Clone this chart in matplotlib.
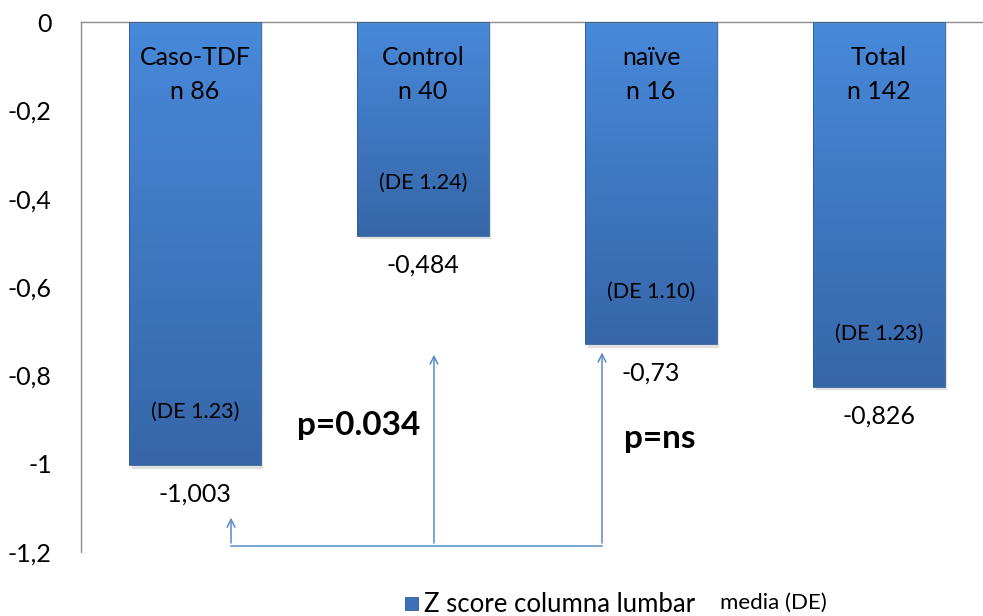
import matplotlib
matplotlib.use("Agg")
import matplotlib.pyplot as plt
import numpy as np
from matplotlib.colors import LinearSegmentedColormap

plt.rcParams["font.family"] = ["Lato", "DejaVu Sans"]

# data
groups = ["Caso-TDF", "Control", "naïve", "Total"]
n_labels = ["n 86", "n 40", "n 16", "n 142"]
means = [-1.003, -0.484, -0.73, -0.826]
mean_labels = ["-1,003", "-0,484", "-0,73", "-0,826"]
sd_labels = ["(DE 1.23)", "(DE 1.24)", "(DE 1.10)", "(DE 1.23)"]
yticks = [0, -0.2, -0.4, -0.6, -0.8, -1.0, -1.2]
ytick_labels = ["0", "-0,2", "-0,4", "-0,6", "-0,8", "-1", "-1,2"]

fig = plt.figure(figsize=(9.83, 6.16), dpi=100)
ax = fig.add_axes([81 / 983, 1 - 552 / 616, (983 - 81) / 983, 530 / 616])

x = np.arange(len(groups))
width = 0.575
bars = ax.bar(x, means, width=width, color="none", edgecolor="#2f5d94", linewidth=0.6, zorder=3)

# vertical gradient inside each bar, plus a soft shadow
cmap = LinearSegmentedColormap.from_list("bar", ["#4889da", "#3666a8"])
grad = np.linspace(0, 1, 256).reshape(-1, 1)
for b in bars:
    x0, w, h = b.get_x(), b.get_width(), b.get_height()
    ax.bar(x0 + w / 2 + 0.012, h - 0.008, width=w, color="#000000", alpha=0.12, zorder=1)
    im = ax.imshow(grad, cmap=cmap, aspect="auto", extent=[x0, x0 + w, h, 0], zorder=2)
    im.set_clip_path(b)

for i in range(len(groups)):
    ax.text(x[i], -0.081, groups[i], ha="center", va="center", fontsize=18, zorder=4)
    ax.text(x[i], -0.158, n_labels[i], ha="center", va="center", fontsize=18, zorder=4)
    ax.text(x[i], means[i] + 0.12, sd_labels[i], ha="center", va="center", fontsize=15.5, zorder=4)
    ax.text(x[i], means[i] - 0.066, mean_labels[i], ha="center", va="center", fontsize=18, zorder=4)

# comparison bracket
lc = "#5b8ac6"
ax.plot([0.158, 1.785], [-1.186, -1.186], color=lc, lw=1.1, zorder=4)
for xa, ytop in [(0.158, -1.116), (1.048, -0.747), (1.785, -0.742)]:
    ax.annotate("", xy=(xa, ytop), xytext=(xa, -1.186),
                arrowprops=dict(arrowstyle="->", color=lc, lw=1.1, mutation_scale=14), zorder=4)
ax.text(0.72, -0.913, "p=0.034", ha="center", va="center", fontsize=24, fontweight="bold")
ax.text(2.04, -0.943, "p=ns", ha="center", va="center", fontsize=24, fontweight="bold")

ax.set_xlim(-0.5, 3.456)
ax.set_ylim(-1.2, 0)
ax.set_yticks(yticks)
ax.set_yticklabels(ytick_labels, fontsize=18)
ax.set_xticks([])
ax.tick_params(axis="y", length=0, pad=21)
for s in ["right", "bottom"]:
    ax.spines[s].set_visible(False)
for s in ["top", "left"]:
    ax.spines[s].set_color("#8c8c8c")
    ax.spines[s].set_linewidth(1)

# legend
fig.patches.append(plt.Rectangle((405 / 983, 1 - 610 / 616), 13 / 983, 13 / 616,
                                 transform=fig.transFigure, facecolor="#3d72bb",
                                 edgecolor="#2f5d94", lw=0.6))
fig.text(424 / 983, 1 - 604 / 616, "Z score columna lumbar", ha="left", va="center", fontsize=18.5)
fig.text(720 / 983, 1 - 603 / 616, "media (DE)", ha="left", va="center", fontsize=16)

fig.savefig("out.png", dpi=100)
